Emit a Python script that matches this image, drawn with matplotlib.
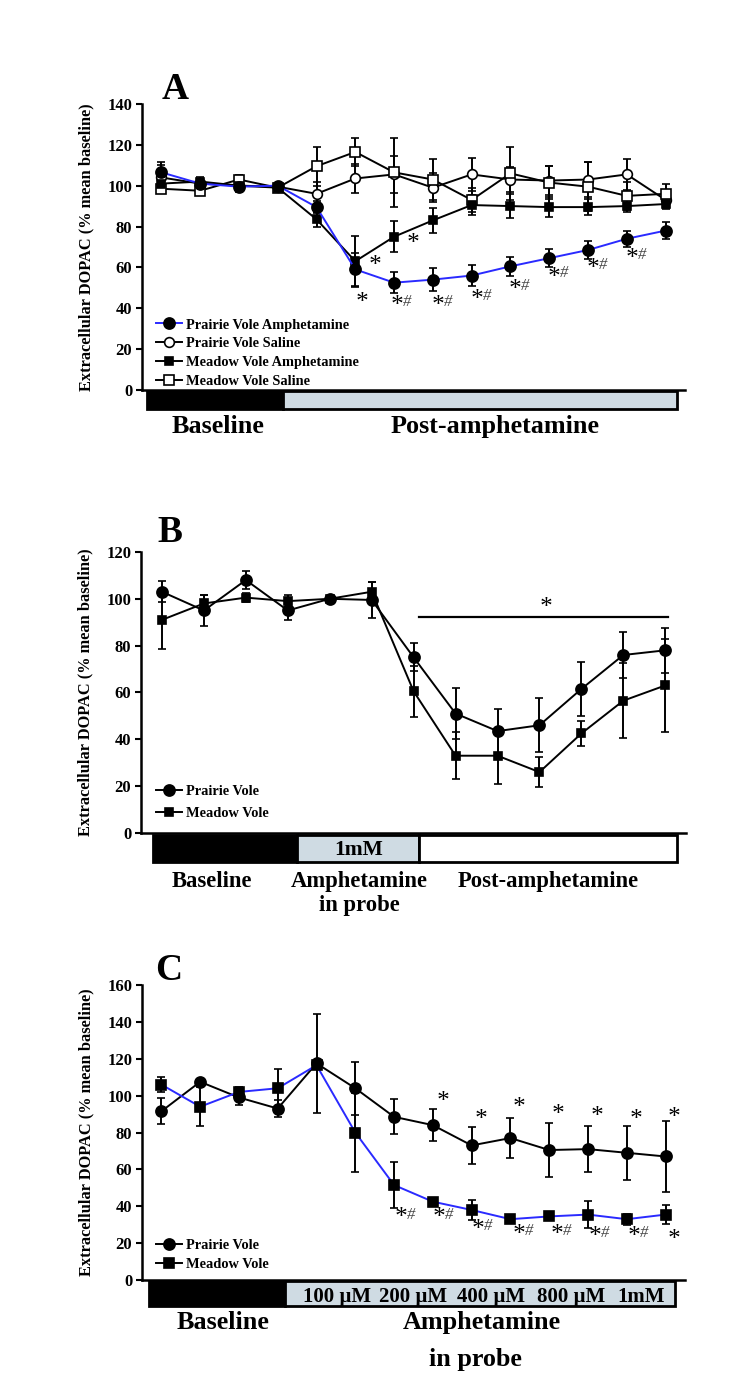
import matplotlib
matplotlib.use("Agg")
import matplotlib.pyplot as plt
from matplotlib.patches import Rectangle
import matplotlib.transforms as mtransforms
from matplotlib.lines import Line2D

plt.rcParams['font.family'] = ['Liberation Serif', 'DejaVu Serif']
plt.rcParams['font.weight'] = 'bold'

# ---------------- data ----------------
a_x = list(range(1, 15))
a_pva = [106.5, 101, 99.5, 100, 89.5, 59, 52.5, 54, 56, 60.5, 64.5, 68.5, 74, 78]
a_pva_err = [5, 2, 2, 1.5, 3, 8, 5, 5.5, 5, 4.5, 4.5, 4.5, 4, 4]
a_pvs = [104, 101, 100, 99.5, 96, 103.5, 105.5, 99, 105.5, 103, 102.5, 103, 105.5, 93]
a_pvs_err = [6, 2, 3, 2, 6, 7, 9, 7, 8, 6, 7, 8.5, 7.5, 4]
a_mva = [101, 102, 100, 99, 83.5, 63, 75, 83, 90.5, 90, 89.5, 89.5, 90, 91]
a_mva_err = [2, 2, 2, 2, 3.5, 12.5, 7.5, 6, 5, 6, 5, 4, 3, 2.5]
a_mvs = [98.5, 97.5, 103, 99, 109.5, 116.5, 106.5, 103, 93, 106, 101.5, 99.5, 95, 96]
a_mvs_err = [2, 2, 2, 2, 9.5, 7, 17, 10, 6, 13, 8, 12, 7, 5]
a_labels = ['Prairie Vole Amphetamine', 'Prairie Vole Saline',
            'Meadow Vole Amphetamine', 'Meadow Vole Saline']
a_star_x = [7.45, 6.47, 6.15]
a_star_y = [71.6, 60.8, 42.5]
a_sh_x = [7.05, 8.1, 9.1, 10.1, 11.1, 12.1, 13.1]
a_sh_y = [41, 41, 44, 49, 55, 59, 64]

b_x = list(range(1, 14))
b_pv = [103, 95, 108, 95, 100, 99.5, 75, 51, 43.5, 46, 61.5, 76, 78]
b_pv_err = [4.5, 6.5, 4, 4, 1, 7.5, 6, 11, 9.5, 11.5, 11.5, 10, 9.5]
b_mv = [91, 98, 100.5, 99, 100, 103, 60.5, 33, 33, 26, 42.5, 56.5, 63]
b_mv_err = [12.5, 3.5, 2, 2.5, 1, 4, 11, 10, 12, 6.5, 5.5, 16, 20]
b_labels = ['Prairie Vole', 'Meadow Vole']

c_x = list(range(1, 15))
c_pv = [91.5, 107.5, 99, 93, 117.5, 104, 88.5, 84, 73, 77, 70.5, 71, 69, 67]
c_pv_err = [7, 1.5, 4, 4.5, 27, 14.5, 9.5, 8.5, 10, 11, 14.5, 12.5, 14.5, 19]
c_mv = [106, 94, 102, 104, 116.5, 80, 51.5, 42.5, 38, 33, 34.5, 35.5, 33, 35.5]
c_mv_err = [4, 10.5, 2.5, 10.5, 2, 21.5, 12.5, 1.5, 5.5, 1, 2, 7.5, 3, 5]
c_labels = ['Prairie Vole', 'Meadow Vole']
c_doses = ['100 µM', '200 µM', '400 µM', '800 µM', '1mM']
c_dose_x = [5.52, 7.5, 9.5, 11.56, 13.37]
c_star_x = [8.24, 9.21, 10.2, 11.2, 12.2, 13.2, 14.2, 14.2]
c_star_y = [96.7, 86.8, 93.1, 89.5, 88.6, 86.8, 88, 21.7]
c_sh_x = [7.14, 8.13, 9.13, 10.18, 11.17, 12.16, 13.16]
c_sh_y = [33.5, 33.5, 27.1, 24.4, 24.4, 23.5, 23.5]

BLUE = '#2a2aff'
GREY = '#cfdbe3'
YLABEL = 'Extracellular DOPAC (% mean baseline)'
LAB = 18.8    # size of labels under the bars (A, C)
LAB_B = 16.3  # size of labels under the bar in B
LEG = 10.4    # legend text size

fig = plt.figure(figsize=(7.5, 13.73), dpi=100)


def style_axes(ax, ymax, step):
    ax.set_ylim(0, ymax)
    ax.set_yticks(range(0, ymax + 1, step))
    for s in ['top', 'right']:
        ax.spines[s].set_visible(False)
    for s in ['left', 'bottom']:
        ax.spines[s].set_linewidth(1.8)
    ax.set_xticks([])
    ax.tick_params(axis='y', direction='out', length=4, width=1.5,
                   labelsize=12, pad=3)
    for t in ax.get_yticklabels():
        t.set_fontweight('bold')
    ax.set_ylabel(YLABEL, fontsize=11.8, fontweight='bold')
    ax.yaxis.set_label_coords(-0.087, 0.5)


def series(ax, x, y, e, marker, mfc, color, ms, label):
    ax.errorbar(x, y, yerr=e, color=color, ecolor='black', elinewidth=1.4,
                capsize=3, capthick=1.4, lw=1.4, marker=marker, ms=ms,
                mfc=mfc, mec='black', mew=1.2, label=label, zorder=3,
                clip_on=False)


def star(ax, x, y, size=18):
    ax.text(x, y, '*', fontsize=size, ha='center', va='center',
            fontweight='normal', fontstyle='italic')


def starhash(ax, x, y):
    star(ax, x, y)
    ax.text(x + 0.18, y + 2.0, '#', fontsize=12, ha='left', va='center',
            fontweight='normal', fontstyle='italic', color='#444444')


def bar(ax, x0, x1, y0, y1, fc, lw=2):
    ax.add_patch(Rectangle((x0, y0), x1 - x0, y1 - y0, facecolor=fc,
                           edgecolor='black', lw=lw, clip_on=False, zorder=2))


def legend(ax, handles, labels, anchor, spacing, fs):
    ax.legend(handles, labels, loc='lower left', bbox_to_anchor=anchor,
              frameon=False, borderpad=0, borderaxespad=0, handlelength=1.8,
              handletextpad=0.25, labelspacing=spacing,
              prop={'weight': 'bold', 'size': fs})


def legend_handle(marker, mfc, color, ms):
    return Line2D([], [], color=color, lw=1.4, marker=marker, ms=ms,
                  mfc=mfc, mec='black', mew=1.2)


def label(ax, tr, x, y, s, size=LAB):
    ax.text(x, y, s, transform=tr, fontsize=size, fontweight='bold',
            ha='center', va='baseline', zorder=5)


# ---------------- Panel A ----------------
axA = fig.add_axes([0.1893, 0.7160, 0.724, 0.2083])
axA.set_xlim(0.5, 14.5)
style_axes(axA, 140, 20)
series(axA, a_x, a_pvs, a_pvs_err, 'o', 'white', 'black', 7, a_labels[1])
series(axA, a_x, a_mvs, a_mvs_err, 's', 'white', 'black', 6.5, a_labels[3])
series(axA, a_x, a_mva, a_mva_err, 's', 'black', 'black', 5.5, a_labels[2])
series(axA, a_x, a_pva, a_pva_err, 'o', 'black', BLUE, 8, a_labels[0])
for x, y in zip(a_star_x, a_star_y):
    star(axA, x, y)
for x, y in zip(a_sh_x, a_sh_y):
    starhash(axA, x, y)
hA = [legend_handle('o', 'black', BLUE, 8), legend_handle('o', 'white', 'black', 7),
      legend_handle('s', 'black', 'black', 5.5), legend_handle('s', 'white', 'black', 6.5)]
legend(axA, hA, a_labels, (0.026, 0.006), 0.4, LEG)
bar(axA, 0.63, 4.13, -9.5, -0.5, 'black')
bar(axA, 4.13, 14.3, -9.5, -0.5, GREY)
trA = mtransforms.blended_transform_factory(axA.transData, axA.transAxes)
label(axA, trA, 2.47, -0.152, 'Baseline')
label(axA, trA, 9.6, -0.152, 'Post-amphetamine')
axA.text(1.36, 1.05, 'A', transform=trA, fontsize=27, fontweight='bold',
         ha='center', va='center')

# ---------------- Panel B ----------------
axB = fig.add_axes([0.188, 0.3933, 0.727, 0.2047])
axB.set_xlim(0.5, 13.5)
style_axes(axB, 120, 20)
series(axB, b_x, b_mv, b_mv_err, 's', 'black', 'black', 5.5, b_labels[1])
series(axB, b_x, b_pv, b_pv_err, 'o', 'black', 'black', 8, b_labels[0])
hB = [legend_handle('o', 'black', 'black', 8), legend_handle('s', 'black', 'black', 5.5)]
legend(axB, hB, b_labels, (0.028, 0.045), 0.65, LEG)
axB.plot([7.12, 13.06], [92.3, 92.3], color='black', lw=1.6)
star(axB, 10.13, 96)
bar(axB, 0.79, 4.23, -12.4, -0.8, 'black')
bar(axB, 4.23, 7.14, -12.4, -0.8, GREY)
bar(axB, 7.14, 13.27, -12.4, -0.8, 'white')
axB.text(5.68, -9.4, '1mM', fontsize=15.5, fontweight='bold', ha='center',
         va='baseline')
trB = mtransforms.blended_transform_factory(axB.transData, axB.transAxes)
label(axB, trB, 2.2, -0.192, 'Baseline', LAB_B)
label(axB, trB, 5.7, -0.192, 'Amphetamine', LAB_B)
label(axB, trB, 5.7, -0.279, 'in probe', LAB_B)
label(axB, trB, 10.2, -0.192, 'Post-amphetamine', LAB_B)
axB.text(1.2, 1.068, 'B', transform=trB, fontsize=27, fontweight='bold',
         ha='center', va='center')

# ---------------- Panel C ----------------
axC = fig.add_axes([0.1893, 0.0677, 0.724, 0.2149])
axC.set_xlim(0.5, 14.5)
style_axes(axC, 160, 20)
series(axC, c_x, c_pv, c_pv_err, 'o', 'black', 'black', 8, c_labels[0])
series(axC, c_x, c_mv, c_mv_err, 's', 'black', BLUE, 6.5, c_labels[1])
for x, y in zip(c_star_x, c_star_y):
    star(axC, x, y)
for x, y in zip(c_sh_x, c_sh_y):
    starhash(axC, x, y)
hC = [legend_handle('o', 'black', 'black', 8), legend_handle('s', 'black', 'black', 6.5)]
legend(axC, hC, c_labels, (0.026, 0.030), 0.4, LEG)
bar(axC, 0.69, 4.18, -14.0, -0.5, 'black')
bar(axC, 4.18, 14.23, -14.0, -0.5, GREY)
for x, t in zip(c_dose_x, c_doses):
    axC.text(x, -11.8, t, fontsize=15, fontweight='bold', ha='center',
             va='baseline')
trC = mtransforms.blended_transform_factory(axC.transData, axC.transAxes)
label(axC, trC, 2.6, -0.166, 'Baseline')
label(axC, trC, 9.27, -0.166, 'Amphetamine')
label(axC, trC, 9.1, -0.292, 'in probe')
axC.text(1.2, 1.05, 'C', transform=trC, fontsize=27, fontweight='bold',
         ha='center', va='center')

fig.savefig('out.png', dpi=100)
